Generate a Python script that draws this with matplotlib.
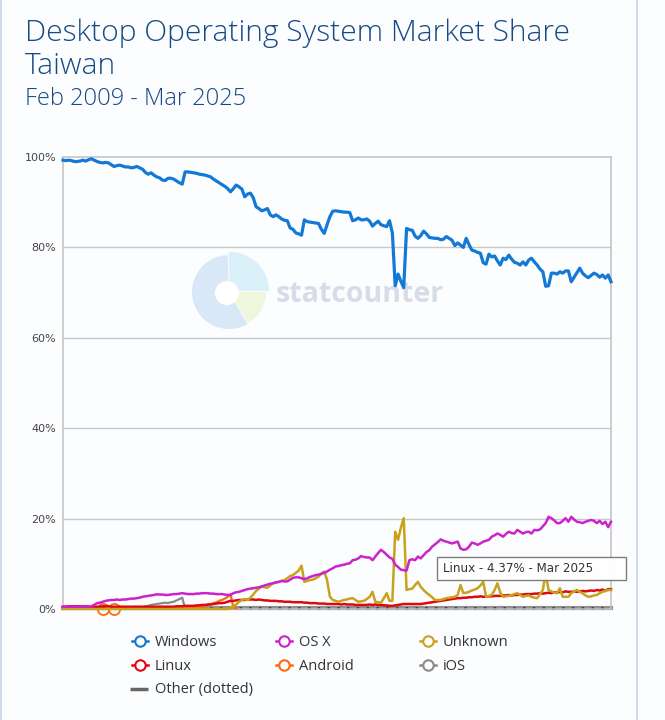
import numpy as np
import pandas as pd
import matplotlib
matplotlib.use("Agg")
from matplotlib import pyplot as plt
from matplotlib.patches import Wedge, Circle, FancyBboxPatch

# monthly data, Feb 2009 .. Mar 2025 (194 months)
months = pd.date_range("2009-02-01", "2025-03-01", freq="MS")

windows = [
    99.3, 99.2, 99.3, 99.2, 99.0, 99.0, 99.1, 99.3, 99.1, 99.4, 99.6, 99.3,
    99.0, 98.8, 98.7, 98.8, 98.7, 98.3, 97.9, 98.1, 98.2, 98.0, 97.8, 97.8,
    97.6, 97.7, 97.9, 97.6, 97.3, 96.6, 96.2, 96.5, 96.0, 95.6, 95.4, 94.9,
    94.8, 95.3, 95.3, 95.1, 94.7, 94.3, 94.0, 96.7, 96.7, 96.6, 96.5, 96.4,
    96.2, 96.1, 96.0, 95.8, 95.6, 95.1, 94.7, 94.3, 93.9, 93.5, 93.0, 92.3,
    93.0, 93.8, 93.4, 92.9, 91.2, 91.8, 92.0, 91.0, 89.0, 88.6, 88.1, 88.3,
    88.6, 87.2, 86.8, 87.2, 86.8, 86.3, 86.0, 85.9, 84.3, 84.0, 83.2, 83.0,
    82.7, 86.1, 85.7, 85.6, 85.5, 85.4, 85.3, 84.0, 83.1, 85.0, 86.8, 88.0,
    88.1, 88.0, 87.9, 87.8, 87.8, 87.7, 85.9, 86.1, 86.5, 86.1, 86.1, 86.3,
    85.8, 84.7, 85.3, 85.8, 85.0, 84.8, 84.6, 85.9, 83.2, 71.5, 74.1, 72.5,
    71.1, 84.2, 83.9, 83.8, 82.5, 82.0, 82.6, 83.6, 83.0, 82.2, 82.1, 82.0,
    82.0, 81.7, 81.8, 82.4, 82.0, 81.6, 80.4, 81.0, 80.5, 80.0, 82.0, 80.6,
    79.4, 79.2, 78.9, 78.7, 76.6, 76.3, 78.5, 77.9, 78.1, 77.0, 76.1, 77.6,
    77.3, 78.3, 77.4, 76.7, 76.5, 76.1, 76.8, 76.1, 77.2, 77.6, 76.8, 76.1,
    75.2, 74.6, 71.4, 71.5, 74.3, 74.3, 74.1, 74.6, 74.3, 74.8, 74.8, 72.4,
    73.4, 74.4, 75.4, 74.3, 73.7, 73.3, 73.8, 74.3, 74.0, 73.4, 73.9, 73.2,
    73.9, 72.4,
]

osx = [
    0.5, 0.5, 0.5, 0.5, 0.5, 0.5, 0.5, 0.6, 0.5, 0.5, 0.6, 0.9,
    1.3, 1.4, 1.6, 1.8, 1.9, 2.0, 2.0, 2.1, 2.0, 2.1, 2.1, 2.2,
    2.3, 2.3, 2.4, 2.5, 2.7, 2.8, 2.9, 3.0, 3.1, 3.25, 3.2, 3.2,
    3.1, 3.1, 3.2, 3.3, 3.3, 3.4, 3.5, 3.4, 3.3, 3.3, 3.3, 3.4,
    3.4, 3.5, 3.5, 3.5, 3.4, 3.4, 3.3, 3.3, 3.3, 3.2, 3.1, 3.1,
    3.5, 3.7, 3.8, 4.0, 4.2, 4.4, 4.5, 4.6, 4.7, 4.8, 5.0, 5.2,
    5.4, 5.6, 5.7, 5.9, 6.0, 6.2, 6.1, 6.1, 6.5, 6.9, 7.0, 7.0,
    6.8, 6.6, 6.8, 7.1, 7.3, 7.5, 7.6, 7.8, 8.0, 8.3, 8.7, 9.0,
    9.4, 9.5, 9.7, 9.8, 10.0, 10.1, 10.8, 10.9, 11.2, 11.7, 11.5, 11.4,
    11.4, 10.8, 11.6, 12.4, 13.1, 12.6, 12.0, 11.4, 11.1, 9.8, 9.3, 8.7,
    8.6, 8.5, 10.8, 11.0, 10.8, 11.6, 11.2, 11.9, 12.6, 13.0, 13.8, 14.3,
    14.8, 15.4, 15.1, 14.9, 14.7, 14.5, 14.7, 14.9, 13.4, 13.1, 13.2, 13.8,
    14.7, 14.5, 14.2, 14.5, 14.9, 15.1, 15.3, 16.0, 16.3, 16.7, 16.4, 16.0,
    16.6, 17.1, 16.8, 16.7, 17.5, 17.1, 16.7, 17.0, 17.1, 16.7, 17.5, 17.4,
    17.6, 18.3, 19.0, 20.4, 20.1, 19.6, 19.0, 19.0, 19.5, 20.1, 19.3, 20.4,
    19.8, 19.3, 19.2, 19.0, 19.3, 19.5, 19.7, 19.5, 19.0, 19.5, 18.8, 19.3,
    18.1, 19.3,
]

unknown = [
    0.0, 0.0, 0.0, 0.0, 0.0, 0.0, 0.0, 0.0, 0.0, 0.0, 0.0, 0.0,
    0.0, 0.0, 0.0, 0.0, 0.0, 0.0, 0.0, 0.0, 0.0, 0.0, 0.0, 0.0,
    0.0, 0.0, 0.0, 0.0, 0.0, 0.0, 0.0, 0.0, 0.0, 0.0, 0.0, 0.0,
    0.0, 0.0, 0.0, 0.0, 0.0, 0.0, 0.0, 0.0, 0.0, 0.0, 0.0, 0.0,
    0.0, 0.0, 0.0, 0.0, 0.0, 0.0, 0.0, 0.0, 0.0, 0.0, 0.0, 0.3,
    0.6, 1.0, 1.6, 2.0, 2.2, 2.0, 2.5, 3.2, 4.0, 4.5, 5.0, 4.8,
    4.7, 5.2, 5.7, 5.8, 6.0, 6.2, 6.4, 6.8, 7.3, 7.5, 8.0, 8.5,
    9.6, 6.0, 6.2, 6.4, 6.5, 6.8, 7.2, 7.8, 8.3, 6.4, 2.7, 2.0,
    1.8, 1.6, 1.8, 2.0, 2.1, 2.3, 2.4, 2.0, 1.6, 1.7, 1.8, 2.2,
    2.7, 3.8, 1.6, 1.5, 1.4, 2.4, 3.5, 1.8, 1.8, 17.1, 15.3, 18.0,
    20.1, 4.2, 4.4, 4.5, 5.3, 6.0, 4.9, 4.2, 3.6, 3.1, 2.6, 2.0,
    2.0, 2.0, 2.2, 2.4, 2.5, 2.6, 2.7, 3.1, 5.3, 3.5, 3.6, 3.8,
    4.1, 4.3, 4.6, 5.2, 6.0, 2.7, 2.9, 3.1, 4.2, 5.7, 3.6, 2.7,
    2.8, 2.9, 3.1, 3.3, 3.5, 3.1, 2.7, 2.9, 3.0, 2.7, 2.5, 2.4,
    3.3, 4.2, 8.0, 4.2, 3.9, 3.6, 3.5, 4.6, 2.7, 2.7, 2.7, 3.5,
    3.9, 4.2, 3.8, 3.5, 3.0, 2.7, 2.8, 3.0, 3.1, 3.5, 3.8, 4.0,
    4.2, 4.2,
]

linux = [
    0.5, 0.5, 0.6, 0.6, 0.6, 0.6, 0.6, 0.6, 0.6, 0.5, 0.5, 0.5,
    0.5, 0.5, 0.6, 0.6, 0.6, 0.5, 0.5, 0.5, 0.5, 0.5, 0.5, 0.5,
    0.5, 0.5, 0.5, 0.5, 0.5, 0.5, 0.5, 0.5, 0.5, 0.5, 0.5, 0.5,
    0.5, 0.5, 0.5, 0.5, 0.6, 0.6, 0.6, 0.7, 0.7, 0.7, 0.7, 0.8,
    0.8, 0.9, 0.9, 1.0, 1.0, 1.1, 1.2, 1.3, 1.3, 1.4, 1.6, 1.8,
    1.8, 1.9, 2.0, 2.0, 2.0, 2.1, 2.1, 2.1, 2.0, 2.1, 2.0, 1.9,
    1.9, 1.8, 1.8, 1.8, 1.7, 1.7, 1.6, 1.6, 1.6, 1.5, 1.5, 1.5,
    1.5, 1.4, 1.4, 1.3, 1.3, 1.3, 1.2, 1.2, 1.2, 1.1, 1.1, 1.1,
    1.1, 1.1, 1.0, 1.1, 1.0, 1.0, 1.0, 0.9, 0.9, 0.9, 0.9, 0.9,
    1.0, 0.9, 1.0, 0.9, 0.9, 0.8, 0.8, 0.7, 0.7, 0.8, 0.9, 1.0,
    1.1, 1.1, 1.1, 1.1, 1.1, 1.1, 1.1, 1.2, 1.3, 1.4, 1.5, 1.6,
    1.7, 1.8, 1.9, 2.0, 2.1, 2.2, 2.3, 2.4, 2.4, 2.5, 2.5, 2.6,
    2.6, 2.7, 2.7, 2.8, 2.7, 2.7, 2.8, 2.8, 2.9, 2.9, 2.9, 3.0,
    3.0, 3.1, 3.0, 3.1, 3.1, 3.2, 3.2, 3.3, 3.3, 3.3, 3.4, 3.4,
    3.5, 3.4, 3.5, 3.6, 3.5, 3.7, 3.6, 3.8, 3.7, 3.9, 3.8, 3.8,
    3.9, 3.8, 3.9, 4.0, 3.9, 4.0, 4.1, 4.0, 4.2, 4.1, 4.3, 4.0,
    4.4, 4.37,
]

# Android: two isolated early readings, then a run starting at month index 29
android_points_idx = [14, 18]
android_points_val = [0.1, 0.1]
android_start = 29
android = [
    0.2, 0.2, 0.3, 0.3, 0.3, 0.3, 0.3, 0.4, 0.4, 0.4, 0.3, 0.4,
    0.4, 0.4, 0.4, 0.4, 0.3, 0.3, 0.3, 0.3, 0.5, 0.7, 0.9, 1.1,
    1.3, 1.5, 1.8, 2.0, 2.3, 2.7, 3.3, 0.3, 0.1,
]

# iOS run starting at month index 27
ios_start = 27
ios = [
    0.2, 0.4, 0.6, 0.7, 0.9, 1.0, 1.1, 1.2, 1.3, 1.4, 1.3, 1.5,
    1.6, 1.9, 2.2, 2.5, 0.1, 0.1,
]

other = [
    0.2, 0.2, 0.2, 0.2, 0.2, 0.2, 0.2, 0.2, 0.2, 0.2, 0.2, 0.2,
    0.2, 0.2, 0.2, 0.2, 0.2, 0.2, 0.2, 0.2, 0.2, 0.2, 0.2, 0.2,
    0.2, 0.2, 0.2, 0.2, 0.2, 0.2, 0.2, 0.2, 0.2, 0.2, 0.2, 0.2,
    0.2, 0.2, 0.2, 0.2, 0.2, 0.2, 0.2, 0.2, 0.2, 0.2, 0.2, 0.2,
    0.2, 0.2, 0.2, 0.2, 0.2, 0.2, 0.2, 0.2, 0.2, 0.2, 0.2, 0.2,
    0.2, 0.2, 0.2, 0.2, 0.2, 0.2, 0.2, 0.2, 0.2, 0.2, 0.2, 0.2,
    0.2, 0.2, 0.2, 0.2, 0.2, 0.2, 0.2, 0.2, 0.2, 0.2, 0.2, 0.2,
    0.2, 0.2, 0.2, 0.2, 0.2, 0.2, 0.2, 0.2, 0.2, 0.2, 0.2, 0.2,
    0.2, 0.2, 0.2, 0.2, 0.2, 0.2, 0.2, 0.2, 0.2, 0.2, 0.2, 0.2,
    0.2, 0.2, 0.2, 0.2, 0.2, 0.2, 0.2, 0.2, 0.2, 0.2, 0.2, 0.2,
    0.2, 0.2, 0.2, 0.2, 0.2, 0.2, 0.2, 0.2, 0.2, 0.2, 0.2, 0.2,
    0.2, 0.2, 0.2, 0.2, 0.2, 0.2, 0.2, 0.2, 0.2, 0.2, 0.2, 0.2,
    0.2, 0.2, 0.2, 0.2, 0.2, 0.2, 0.2, 0.2, 0.2, 0.2, 0.2, 0.2,
    0.2, 0.2, 0.2, 0.2, 0.2, 0.2, 0.2, 0.2, 0.2, 0.2, 0.2, 0.2,
    0.2, 0.2, 0.2, 0.2, 0.2, 0.2, 0.2, 0.2, 0.2, 0.2, 0.2, 0.2,
    0.2, 0.2, 0.2, 0.2, 0.2, 0.2, 0.2, 0.2, 0.2, 0.2, 0.2, 0.2,
    0.2, 0.2,
]

yticks = [0, 20, 40, 60, 80, 100]
ytick_labels = ["0%", "20%", "40%", "60%", "80%", "100%"]

legend_names = ["Windows", "OS X", "Unknown", "Linux", "Android", "iOS", "Other (dotted)"]
colors = {
    "Windows": "#1479d4",
    "OS X": "#cc22cc",
    "Unknown": "#c8a21c",
    "Linux": "#e0070e",
    "Android": "#ff6a10",
    "iOS": "#8a8a8a",
    "Other (dotted)": "#666666",
}

title_color = "#174a85"
W, H = 665, 720

fig = plt.figure(figsize=(W / 100, H / 100), dpi=100, facecolor="#fcfdff")

# background layer in pixel coordinates (watermark, page borders)
back = fig.add_axes([0, 0, 1, 1], zorder=0)
back.set_xlim(0, W)
back.set_ylim(H, 0)
back.axis("off")
back.plot([0.5, 0.5], [0, H], color="#c9d4e4", lw=1.2)
back.plot([637, 637], [0, H], color="#c9d4e4", lw=1.2)

# statcounter watermark (y axis points down here, so angles run clockwise on screen)
cx, cy = 229, 292
back.add_patch(Wedge((cx, cy), 37, 60, 268, facecolor="#d9e8f7", edgecolor="none"))
back.add_patch(Wedge((cx + 1, cy - 1), 39, 268, 360, facecolor="#daf1fa", edgecolor="none"))
back.add_patch(Wedge((cx + 1, cy), 36, 0, 60, facecolor="#eef6dc", edgecolor="none"))
back.add_patch(Circle((cx - 2, cy + 1), 12, facecolor="white", edgecolor="none"))
back.text(276, 294, "statcounter", fontsize=20.5, fontweight="bold", color="#d6dde8",
          va="center", ha="left", family=["Open Sans", "DejaVu Sans"])

# main chart
ax = fig.add_axes([63 / W, 1 - 609 / H, 548 / W, 452 / H], zorder=1)
ax.set_facecolor("none")
x = np.arange(len(months))
ax.set_xlim(0, len(months) - 1)
ax.set_ylim(0, 100)
ax.set_yticks(yticks)
ax.set_yticklabels(ytick_labels)
ax.set_xticks([])
ax.tick_params(axis="y", length=0, pad=5, labelsize=8, labelcolor="#444444")
for lab in ax.get_yticklabels():
    lab.set_family("DejaVu Sans")
for y in yticks[1:-1]:
    ax.axhline(y, color="#c8c8c8", lw=1, zorder=0)
for s in ax.spines.values():
    s.set_color("#c0c0c0")
    s.set_linewidth(1.1)

other_arr = np.array(other)
ax.plot(x, other_arr, color="#909090", lw=3, clip_on=False, zorder=2)
ax.plot(x, other_arr, color="#444444", lw=2.2, linestyle=(0, (0.8, 2.4)), clip_on=False, zorder=2)

ios_x = np.arange(ios_start, ios_start + len(ios))
ax.plot(ios_x, ios, color=colors["iOS"], lw=1.6, clip_on=False, zorder=3)

and_x = np.arange(android_start, android_start + len(android))
ax.plot(and_x, android, color=colors["Android"], lw=1.6, clip_on=False, zorder=3)
ax.plot(android_points_idx, android_points_val, ls="none", marker="o", ms=8,
        mfc="none", mec=colors["Android"], mew=1.3, clip_on=False, zorder=3)

ax.plot(x, linux, color=colors["Linux"], lw=1.8, clip_on=False, zorder=4)
ax.plot(x, unknown, color=colors["Unknown"], lw=1.8, clip_on=False, zorder=4)
ax.plot(x, osx, color=colors["OS X"], lw=1.8, clip_on=False, zorder=5)
ax.plot(x, windows, color=colors["Windows"], lw=2.3, clip_on=False, zorder=6)

# front layer: titles, legend, tooltip
front = fig.add_axes([0, 0, 1, 1], zorder=3)
front.set_xlim(0, W)
front.set_ylim(H, 0)
front.axis("off")
front.patch.set_alpha(0)

tfont = ["Open Sans", "DejaVu Sans"]
front.text(25, 41, "Desktop Operating System Market Share", fontsize=21.6, color=title_color,
           family=tfont, fontweight="light", va="baseline")
front.text(25, 74, "Taiwan", fontsize=21.6, color=title_color,
           family=tfont, fontweight="light", va="baseline")
front.text(25, 105, "Feb 2009 - Mar 2025", fontsize=17, color=title_color,
           family=tfont, fontweight="light", va="baseline")

# legend
col_x = [140, 284, 428]
row_y = [641, 665, 689]
for k, name in enumerate(legend_names):
    lx = col_x[k % 3]
    ly = row_y[k // 3]
    c = colors[name]
    if name.startswith("Other"):
        front.plot([lx - 10, lx + 8], [ly, ly], color=c, lw=2.5, solid_capstyle="butt")
    else:
        front.plot([lx - 8, lx + 8], [ly, ly], color=c, lw=1.8)
        front.plot([lx], [ly], marker="o", ms=7.5, mfc="white", mec=c, mew=1.5)
    front.text(lx + 15, ly + 1, name, fontsize=10.5, color="#333333", family=tfont,
               va="center", ha="left")

# tooltip
front.add_patch(FancyBboxPatch((437, 557), 189, 23, boxstyle="square,pad=0",
                               facecolor="white", edgecolor="#777777", lw=1, alpha=0.95))
front.text(443, 569, "Linux - 4.37% - Mar 2025", fontsize=8.6, color="#333333",
           family="DejaVu Sans", va="center", ha="left")

fig.savefig("out.png", dpi=100, facecolor=fig.get_facecolor())
